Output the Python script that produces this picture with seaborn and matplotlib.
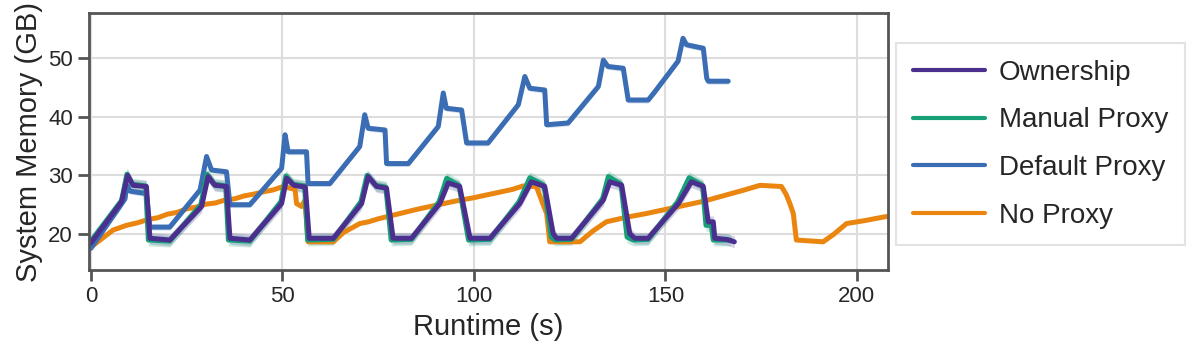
import matplotlib
matplotlib.use("Agg")
import matplotlib.pyplot as plt
import seaborn as sns
import pandas as pd
import numpy as np

series_names = ["Ownership", "Manual Proxy", "Default Proxy", "No Proxy"]
series_colors = ["#4b2f8e", "#17a077", "#3b6db4", "#ea8510"]
band_spread = [1.0, 1.0, 0.5, 0.0]

ownership_t = [0, 8, 9.6, 11, 14.5, 15.4, 20.6, 28.9, 30.6, 32.4, 35.4, 36.3, 41.5,
               49.8, 51.1, 53, 56, 57, 63.3, 70.7, 72.4, 74.6, 77.2, 78.9, 83.7,
               91.1, 93.3, 96.3, 99, 104.2, 112, 115, 118.5, 120.7, 121.6, 125.5,
               133.8, 135.5, 138.6, 140.7, 142, 145.5, 153.4, 156.8, 159.9, 161.2,
               162.5, 162.9, 166, 168]
ownership_gb = [18.5, 25.5, 30, 28.3, 28.1, 19.3, 19.0, 24.7, 29.8, 28.3, 28.1, 19.3, 19.0,
                25.2, 29.5, 28.3, 28.0, 19.3, 19.3, 25.2, 29.8, 28.1, 27.8, 19.3, 19.3,
                25.2, 28.7, 28.1, 19.3, 19.3, 25.2, 28.9, 28.1, 20.1, 19.3, 19.3,
                25.8, 28.9, 28.3, 20.1, 19.3, 19.3, 25.2, 28.9, 28.1, 22.1,
                22.1, 19.3, 19.1, 18.7]

manual_t = [0, 8, 9.4, 10.8, 14.3, 15.0, 20.6, 28.7, 30.3, 32.2, 35.2, 35.9, 41.5,
            49.6, 50.9, 52.8, 55.8, 56.6, 63.3, 70.5, 72.1, 74.4, 77.0, 78.4, 83.7,
            90.9, 92.9, 96.1, 98.6, 104.2, 111.8, 114.6, 118.3, 120.2, 121.2, 125.5,
            133.6, 135.1, 138.4, 140.0, 141.6, 145.5, 153.2, 156.2, 159.7, 160.6,
            162.0, 162.5, 166, 167]
manual_gb = [18.8, 25.7, 30.2, 28.5, 28.2, 19.0, 18.8, 25.0, 30.2, 28.5, 28.2, 19.0, 18.8,
             25.5, 29.9, 28.5, 28.2, 19.0, 19.1, 25.5, 30.0, 28.3, 28.0, 19.0, 19.1,
             25.5, 29.5, 28.3, 19.0, 19.1, 25.5, 29.6, 28.3, 19.5, 19.0, 19.1,
             26.0, 29.8, 28.5, 19.5, 19.0, 19.1, 25.5, 29.6, 28.3, 21.5,
             21.5, 19.0, 19.0, 19.0]

default_t = [0, 8.9, 9.4, 10.3, 14.5, 15.4, 20.6, 28.5, 30.2, 31.5, 35.4, 36.3, 41.5,
             49.8, 50.7, 51.5, 56.3, 56.7, 62.4, 70.2, 71.5, 72.4, 76.8, 77.2, 82.9,
             90.7, 92.0, 92.8, 96.8, 98.1, 103.7, 111.6, 113.3, 114.6, 118.5, 119.0,
             124.6, 132.5, 133.8, 135.0, 139.0, 140.3, 145.5, 147.0, 153.3, 154.6,
             155.5, 159.9, 160.8, 161.2, 166.4]
default_gb = [17.6, 26.0, 28.3, 27.3, 26.9, 21.2, 21.2, 27.5, 33.2, 30.9, 30.6, 25.0, 25.0,
              31.2, 36.9, 34.0, 34.0, 28.6, 28.6, 34.9, 40.3, 38.0, 37.7, 32.0, 32.0,
              38.3, 44.0, 41.4, 41.1, 35.5, 35.5, 42.0, 46.8, 44.8, 44.5, 38.6,
              38.9, 45.1, 49.6, 48.5, 48.2, 42.8, 42.8, 44.0, 49.4, 53.3,
              52.2, 51.6, 46.5, 46.0, 46.0]

noproxy_t = [0, 3, 5.8, 9.3, 12, 15, 17.5, 20, 22.5, 25, 27.5, 30, 32.5, 35, 37.5, 40,
             42.5, 45, 47.5, 50.2, 53.3, 53.7, 55.0, 55.9, 56.7, 63.3, 66, 70.2, 72.5,
             75, 80, 85, 90, 95, 100, 105, 110, 112.9, 116.3, 118.1, 119, 119.8, 125,
             127.7, 131, 134.6, 140, 145, 150, 155, 160, 165, 170, 174.7, 180.3, 181.5,
             182.5, 183.4, 184.2, 191.2, 194, 197.3, 202, 207.7]
noproxy_gb = [17.8, 19.3, 20.7, 21.5, 21.9, 22.5, 22.8, 23.4, 23.7, 24.3, 24.6, 25.1, 25.3,
              25.8, 26.0, 26.5, 26.8, 27.2, 27.5, 28.1, 27.6, 25.2, 24.7, 25.8, 18.7,
              18.7, 20.3, 21.8, 22.1, 22.6, 23.4, 24.2, 24.9, 25.6, 26.2, 26.9, 27.6,
              28.2, 28.1, 25.0, 23.5, 18.7, 18.7, 18.7, 20.5, 22.1, 22.9, 23.5, 24.2,
              24.9, 25.6, 26.5, 27.4, 28.3, 28.1, 26.8, 25.2, 23.5, 19.0, 18.7, 20.0,
              21.8, 22.3, 23.0]

series_t = [ownership_t, manual_t, default_t, noproxy_t]
series_gb = [ownership_gb, manual_gb, default_gb, noproxy_gb]

frames = []
for name, t, gb in zip(series_names, series_t, series_gb):
    frames.append(pd.DataFrame({"Runtime (s)": t, "System Memory (GB)": gb, "Config": name}))
df = pd.concat(frames, ignore_index=True)

sns.set_theme(style="ticks")
plt.rcParams["font.family"] = ["Liberation Sans", "DejaVu Sans"]

fig = plt.figure(figsize=(11.96, 3.61), dpi=100)
ax = fig.add_axes([0.0744, 0.252, 0.668, 0.712])

palette = dict(zip(series_names, series_colors))

# light bands round the lines, drawn first
for name, t, gb, spread in zip(series_names, series_t, series_gb, band_spread):
    if spread > 0:
        gb = np.array(gb)
        ax.fill_between(t, gb - spread, gb + spread, color=palette[name], alpha=0.22, lw=0)

sns.lineplot(data=df, x="Runtime (s)", y="System Memory (GB)", hue="Config",
             hue_order=series_names[::-1], palette=palette, estimator=None, sort=False,
             lw=3.6, ax=ax)

ax.set_xlim(-0.5, 208.1)
ax.set_ylim(13.9, 57.6)
ax.set_xticks([0, 50, 100, 150, 200])
ax.set_yticks([20, 30, 40, 50])
ax.grid(True, color="#dddddd", lw=1.5)
ax.set_axisbelow(True)
for sp in ax.spines.values():
    sp.set_color("#555555")
    sp.set_linewidth(2)
ax.tick_params(labelsize=16, length=8, width=2, color="#555555", labelcolor="#262626")
ax.set_xlabel("Runtime (s)", fontsize=21, color="#262626")
ax.set_ylabel("System Memory (GB)", fontsize=21, color="#262626")

handles, labels = ax.get_legend_handles_labels()
lookup = dict(zip(labels, handles))
leg = ax.legend([lookup[n] for n in series_names], series_names, loc="center left",
                bbox_to_anchor=(1.01, 0.49), borderaxespad=0, fontsize=20, frameon=True,
                fancybox=False, edgecolor="#dddddd", handlelength=2.6, handletextpad=0.5,
                labelspacing=0.78, borderpad=0.6)
leg.get_frame().set_linewidth(1.5)
for line in leg.get_lines():
    line.set_linewidth(3)

fig.savefig("out.png", dpi=100)
